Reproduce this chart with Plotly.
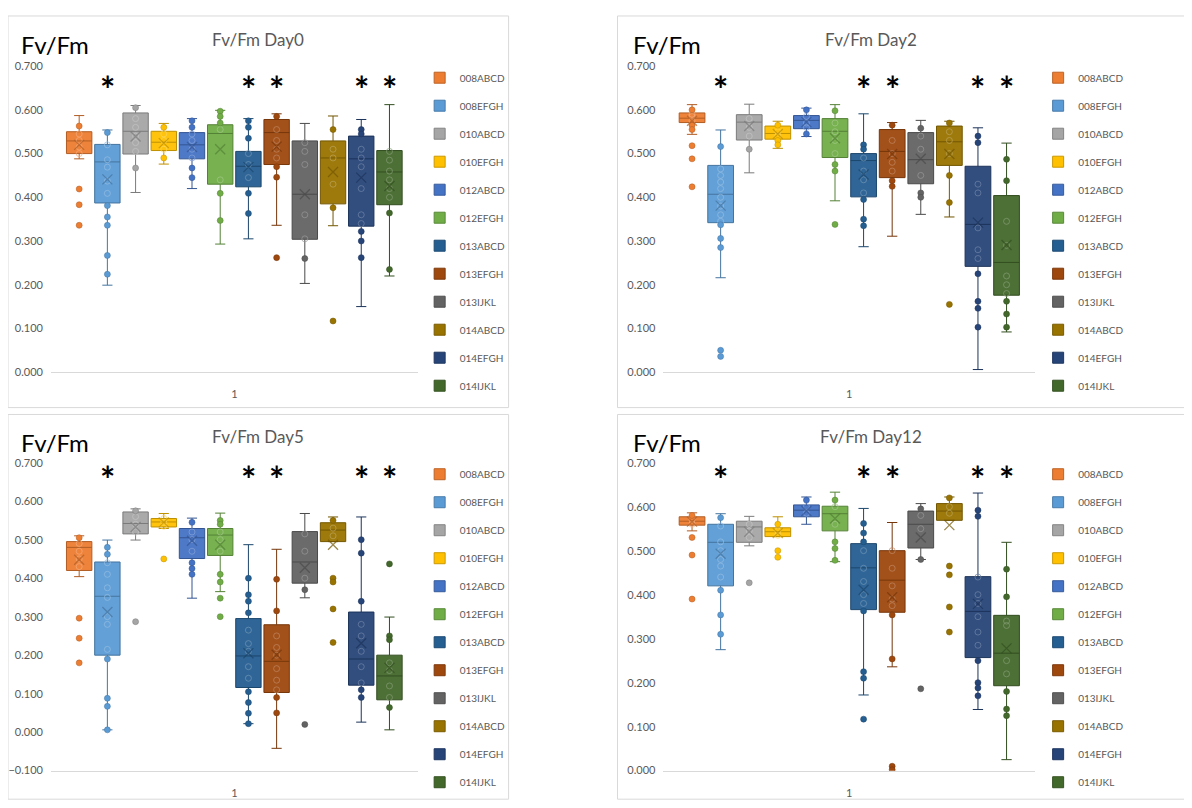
import plotly.graph_objects as go

W, H = 1192, 808
PAGE_OFFSET = 8  # default body margin of the written html page

GROUPS = ["008ABCD", "008EFGH", "010ABCD", "010EFGH", "012ABCD", "012EFGH",
          "013ABCD", "013EFGH", "013IJKL", "014ABCD", "014EFGH", "014IJKL"]
COLORS = ["#ED7D31", "#5B9BD5", "#A5A5A5", "#FFC000", "#4472C4", "#70AD47",
          "#255E91", "#9E480E", "#636363", "#997300", "#264478", "#43682B"]
STAR_GROUPS = ["008EFGH", "013ABCD", "013EFGH", "014EFGH", "014IJKL"]
X_TICK_LABEL = "1"
Y_LABEL = "Fv/Fm"
TITLES = ["Fv/Fm Day0", "Fv/Fm Day2", "Fv/Fm Day5", "Fv/Fm Day12"]

# ---------------- Day 0 ----------------
D0_Q1 = [0.500, 0.387, 0.499, 0.507, 0.488, 0.430, 0.424, 0.475, 0.304, 0.385, 0.334, 0.383]
D0_MED = [0.529, 0.481, 0.551, 0.526, 0.520, 0.546, 0.471, 0.548, 0.407, 0.490, 0.488, 0.458]
D0_Q3 = [0.550, 0.521, 0.593, 0.551, 0.548, 0.566, 0.505, 0.578, 0.529, 0.529, 0.540, 0.507]
D0_LO = [0.488, 0.199, 0.411, 0.476, 0.420, 0.293, 0.305, 0.336, 0.203, 0.335, 0.150, 0.220]
D0_HI = [0.587, 0.554, 0.610, 0.569, 0.580, 0.599, 0.580, 0.591, 0.569, 0.586, 0.578, 0.612]
D0_MEAN = [0.520, 0.441, 0.539, 0.524, 0.515, 0.510, 0.469, 0.516, 0.407, 0.458, 0.445, 0.426]
D0_PTS = [
    [0.563, 0.545, 0.53, 0.515, 0.50, 0.419, 0.383, 0.336],
    [0.548, 0.52, 0.486, 0.469, 0.437, 0.409, 0.381, 0.355, 0.336, 0.267, 0.224],
    [0.605, 0.58, 0.56, 0.54, 0.525, 0.505, 0.467],
    [0.56, 0.545, 0.53, 0.51, 0.49],
    [0.575, 0.56, 0.545, 0.53, 0.51, 0.49, 0.467, 0.445],
    [0.597, 0.585, 0.57, 0.555, 0.44, 0.409, 0.347],
    [0.575, 0.56, 0.535, 0.50, 0.475, 0.445, 0.409, 0.363],
    [0.585, 0.555, 0.53, 0.51, 0.49, 0.47, 0.446, 0.262],
    [0.525, 0.505, 0.475, 0.36, 0.305, 0.26],
    [0.555, 0.51, 0.49, 0.43, 0.376, 0.117],
    [0.555, 0.545, 0.51, 0.49, 0.47, 0.42, 0.36, 0.34, 0.322, 0.30, 0.262],
    [0.505, 0.485, 0.46, 0.44, 0.42, 0.40, 0.364, 0.235],
]

# ---------------- Day 2 ----------------
D2_Q1 = [0.571, 0.342, 0.531, 0.533, 0.557, 0.491, 0.401, 0.445, 0.431, 0.473, 0.242, 0.176]
D2_MED = [0.581, 0.407, 0.572, 0.546, 0.576, 0.551, 0.484, 0.505, 0.486, 0.527, 0.338, 0.251]
D2_Q3 = [0.593, 0.473, 0.589, 0.563, 0.587, 0.580, 0.500, 0.555, 0.548, 0.563, 0.471, 0.404]
D2_LO = [0.544, 0.216, 0.456, 0.512, 0.539, 0.392, 0.287, 0.311, 0.361, 0.355, 0.006, 0.092]
D2_HI = [0.612, 0.554, 0.613, 0.574, 0.604, 0.612, 0.591, 0.571, 0.576, 0.574, 0.559, 0.524]
D2_MEAN = [0.575, 0.381, 0.563, 0.545, 0.572, 0.535, 0.452, 0.499, 0.488, 0.499, 0.342, 0.291]
D2_PTS = [
    [0.60, 0.59, 0.585, 0.575, 0.565, 0.555, 0.518, 0.488, 0.424],
    [0.516, 0.465, 0.45, 0.435, 0.42, 0.40, 0.38, 0.36, 0.345, 0.337, 0.306, 0.285, 0.05, 0.036],
    [0.58, 0.56, 0.54, 0.51],
    [0.565, 0.55, 0.54, 0.53, 0.52],
    [0.60, 0.585, 0.57, 0.56, 0.545],
    [0.598, 0.57, 0.55, 0.53, 0.50, 0.475, 0.46, 0.338],
    [0.52, 0.51, 0.49, 0.46, 0.44, 0.41, 0.395, 0.35, 0.335],
    [0.565, 0.53, 0.50, 0.48, 0.46, 0.438, 0.425],
    [0.558, 0.54, 0.51, 0.45, 0.41, 0.40],
    [0.57, 0.55, 0.53, 0.50, 0.45, 0.388, 0.155],
    [0.54, 0.525, 0.43, 0.41, 0.33, 0.28, 0.26, 0.225, 0.162, 0.146, 0.103],
    [0.487, 0.438, 0.345, 0.29, 0.22, 0.20, 0.18, 0.162, 0.133, 0.103],
]

# ---------------- Day 5 ----------------
D5_Q1 = [0.420, 0.200, 0.515, 0.533, 0.451, 0.459, 0.116, 0.103, 0.387, 0.495, 0.122, 0.084]
D5_MED = [0.480, 0.353, 0.542, 0.546, 0.505, 0.512, 0.198, 0.184, 0.442, 0.525, 0.190, 0.146]
D5_Q3 = [0.495, 0.442, 0.572, 0.555, 0.529, 0.529, 0.295, 0.279, 0.521, 0.544, 0.312, 0.200]
D5_LO = [0.404, 0.006, 0.499, 0.529, 0.348, 0.365, 0.022, -0.042, 0.349, 0.495, 0.026, 0.006]
D5_HI = [0.510, 0.499, 0.580, 0.568, 0.556, 0.569, 0.487, 0.475, 0.568, 0.559, 0.559, 0.299]
D5_MEAN = [0.448, 0.312, 0.533, 0.545, 0.497, 0.487, 0.205, 0.201, 0.427, 0.487, 0.231, 0.167]
D5_PTS = [
    [0.505, 0.49, 0.47, 0.45, 0.43, 0.296, 0.244, 0.18],
    [0.48, 0.462, 0.44, 0.41, 0.375, 0.35, 0.30, 0.28, 0.215, 0.19, 0.088, 0.067, 0.006],
    [0.575, 0.56, 0.54, 0.52, 0.287],
    [0.555, 0.545, 0.535, 0.45],
    [0.545, 0.52, 0.50, 0.47, 0.44, 0.425, 0.41],
    [0.55, 0.54, 0.52, 0.50, 0.47, 0.41, 0.39, 0.348, 0.30],
    [0.40, 0.357, 0.34, 0.31, 0.265, 0.23, 0.21, 0.17, 0.14, 0.105, 0.077, 0.049, 0.022],
    [0.397, 0.315, 0.25, 0.22, 0.20, 0.165, 0.135, 0.11, 0.09, 0.05],
    [0.515, 0.47, 0.40, 0.37, 0.02],
    [0.55, 0.53, 0.51, 0.40, 0.39, 0.32, 0.233],
    [0.50, 0.465, 0.34, 0.28, 0.25, 0.21, 0.17, 0.128, 0.11, 0.09],
    [0.437, 0.25, 0.24, 0.18, 0.16, 0.12, 0.09, 0.064],
]

# ---------------- Day 12 ----------------
D12_Q1 = [0.558, 0.420, 0.519, 0.532, 0.577, 0.545, 0.366, 0.360, 0.506, 0.569, 0.257, 0.193]
D12_MED = [0.567, 0.519, 0.554, 0.543, 0.592, 0.584, 0.461, 0.433, 0.560, 0.590, 0.362, 0.267]
D12_Q3 = [0.577, 0.560, 0.567, 0.552, 0.604, 0.601, 0.516, 0.500, 0.590, 0.607, 0.441, 0.353]
D12_LO = [0.545, 0.275, 0.511, 0.532, 0.560, 0.475, 0.172, 0.236, 0.480, 0.569, 0.139, 0.025]
D12_HI = [0.586, 0.584, 0.578, 0.577, 0.622, 0.633, 0.596, 0.564, 0.607, 0.622, 0.631, 0.519]
D12_MEAN = [0.566, 0.493, 0.543, 0.540, 0.590, 0.573, 0.411, 0.394, 0.530, 0.558, 0.379, 0.278]
D12_PTS = [
    [0.58, 0.57, 0.56, 0.53, 0.49, 0.39],
    [0.575, 0.556, 0.52, 0.50, 0.48, 0.465, 0.44, 0.41, 0.354, 0.31],
    [0.56, 0.545, 0.53, 0.427],
    [0.56, 0.545, 0.535, 0.50, 0.485],
    [0.615, 0.60, 0.585],
    [0.615, 0.60, 0.56, 0.52, 0.505, 0.478],
    [0.562, 0.54, 0.52, 0.50, 0.46, 0.43, 0.40, 0.38, 0.363, 0.225, 0.21, 0.117],
    [0.50, 0.46, 0.42, 0.39, 0.375, 0.354, 0.254, 0.01, 0.002],
    [0.595, 0.58, 0.55, 0.48, 0.186],
    [0.62, 0.60, 0.585, 0.465, 0.445, 0.372, 0.315],
    [0.592, 0.578, 0.44, 0.40, 0.38, 0.35, 0.315, 0.285, 0.25, 0.20, 0.188, 0.17],
    [0.458, 0.395, 0.34, 0.33, 0.25, 0.22, 0.18, 0.14, 0.125],
]

DATA = [
    (D0_Q1, D0_MED, D0_Q3, D0_LO, D0_HI, D0_MEAN, D0_PTS),
    (D2_Q1, D2_MED, D2_Q3, D2_LO, D2_HI, D2_MEAN, D2_PTS),
    (D5_Q1, D5_MED, D5_Q3, D5_LO, D5_HI, D5_MEAN, D5_PTS),
    (D12_Q1, D12_MED, D12_Q3, D12_LO, D12_HI, D12_MEAN, D12_PTS),
]

# ---------------- layout geometry (page pixels) ----------------
FONT = "Lato, 'Open Sans', sans-serif"
GRAY = "#595959"
GEO = [
    dict(xl=50, xr=417, yt=60, yb=371, yr=[0, 0.7], frame=(7, 9, 508, 407), fv=(18, 38), title=(257, 33), leg=(419, 57), star=-23),
    dict(xl=663, xr=1035, yt=60, yb=371, yr=[0, 0.7], frame=(617, 9, 1210, 407), fv=(631, 38), title=(871, 33), leg=(1038, 57), star=-23),
    dict(xl=50, xr=417, yt=463, yb=776, yr=[-0.1, 0.7], frame=(7, 414, 508, 805), fv=(18, 442), title=(257, 436), leg=(419, 460), star=-16),
    dict(xl=663, xr=1035, yt=463, yb=776, yr=[0, 0.7], frame=(617, 414, 1210, 805), fv=(631, 442), title=(871, 436), leg=(1038, 460), star=-16),
]


def px(x):
    return (x - PAGE_OFFSET) / W


def py(y):
    return 1 - (y - PAGE_OFFSET) / H


def _rgb(hexc):
    h = hexc.lstrip("#")
    return int(h[0:2], 16), int(h[2:4], 16), int(h[4:6], 16)


def shade(hexc, f):
    r, g, b = _rgb(hexc)
    return "rgb(%d,%d,%d)" % (int(r * f), int(g * f), int(b * f))


def tint(hexc, f):
    r, g, b = _rgb(hexc)
    return "rgb(%d,%d,%d)" % (int(r + (255 - r) * f), int(g + (255 - g) * f), int(b + (255 - b) * f))


def rgba(hexc, a):
    r, g, b = _rgb(hexc)
    return "rgba(%d,%d,%d,%.2f)" % (r, g, b, a)


fig = go.Figure()
layout = dict(
    width=W, height=H, autosize=False,
    margin=dict(l=0, r=0, t=0, b=0),
    paper_bgcolor="white", plot_bgcolor="white",
    font=dict(family=FONT, color=GRAY),
    showlegend=True,
)
annotations = []
shapes = []

for p, (q1, med, q3, lo, hi, mean, pts) in enumerate(DATA):
    g = GEO[p]
    sfx = "" if p == 0 else str(p + 1)
    xa, ya = "x" + sfx, "y" + sfx
    legname = "legend" + sfx

    for i, grp in enumerate(GROUPS):
        c = COLORS[i]
        pos = i + 1
        dark = shade(c, 0.75)
        light = tint(c, 0.35)
        fig.add_trace(go.Box(
            x=[pos], q1=[q1[i]], median=[med[i]], q3=[q3[i]],
            lowerfence=[lo[i]], upperfence=[hi[i]],
            orientation="v", boxpoints=False, width=0.9, whiskerwidth=0.4,
            fillcolor=rgba(c, 0.95), line=dict(color=dark, width=1),
            xaxis=xa, yaxis=ya, showlegend=False, hoverinfo="skip", name=grp,
        ))
        inside = [v for v in pts[i] if q1[i] <= v <= q3[i]]
        outside = [v for v in pts[i] if not (q1[i] <= v <= q3[i])]
        fig.add_trace(go.Scatter(
            x=[pos] * len(inside), y=inside, mode="markers",
            marker=dict(symbol="circle-open", size=6, color=light, line=dict(width=1), opacity=0.7),
            xaxis=xa, yaxis=ya, showlegend=False, hoverinfo="skip",
        ))
        fig.add_trace(go.Scatter(
            x=[pos] * len(outside), y=outside, mode="markers",
            marker=dict(symbol="circle", size=6, color=c, line=dict(color=dark, width=0.5)),
            xaxis=xa, yaxis=ya, showlegend=False, hoverinfo="skip",
        ))
        fig.add_trace(go.Scatter(
            x=[pos], y=[mean[i]], mode="markers",
            marker=dict(symbol="x-thin-open", size=10, color=dark, line=dict(width=1.3), opacity=0.7),
            xaxis=xa, yaxis=ya, showlegend=False, hoverinfo="skip",
        ))
    # legend entries
    for i, grp in enumerate(GROUPS):
        fig.add_trace(go.Scatter(
            x=[None], y=[None], mode="markers", name=grp,
            marker=dict(symbol="square", size=11, color=COLORS[i], line=dict(color=shade(COLORS[i], 0.8), width=1)),
            xaxis=xa, yaxis=ya, legend=legname, legendgroup=f"{p}-{i}", showlegend=True,
        ))

    xkey = "xaxis" + sfx
    ykey = "yaxis" + sfx
    layout[xkey] = dict(
        domain=[px(g["xl"]), px(g["xr"])], range=[0, 13], anchor=ya,
        tickvals=[6.5], ticktext=[X_TICK_LABEL], showgrid=False, zeroline=False,
        showline=True, linecolor="#D9D9D9", linewidth=1, ticks="",
        tickfont=dict(size=11, color=GRAY, family=FONT), ticklabelstandoff=12,
    )
    layout[ykey] = dict(
        domain=[py(g["yb"]), py(g["yt"])], range=g["yr"], anchor=xa,
        dtick=0.1, tick0=0, tickformat=".3f", showgrid=False, zeroline=False,
        showline=False, ticks="",
        tickfont=dict(size=11, color=GRAY, family=FONT), ticklabelstandoff=7,
    )
    layout[legname] = dict(
        x=px(g["leg"][0]), y=py(g["leg"][1]), xanchor="left", yanchor="top",
        bgcolor="rgba(0,0,0,0)", font=dict(size=10, color=GRAY, family=FONT),
        tracegroupgap=9, itemclick=False, itemdoubleclick=False,
    )

    x0, y0, x1, y1 = g["frame"]
    shapes.append(dict(type="rect", xref="paper", yref="paper",
                       x0=px(x0), x1=px(x1), y0=py(y1), y1=py(y0),
                       line=dict(color="#D9D9D9", width=1), fillcolor="rgba(0,0,0,0)", layer="below"))
    annotations.append(dict(text=Y_LABEL, xref="paper", yref="paper", x=px(g["fv"][0]), y=py(g["fv"][1]),
                            xanchor="left", yanchor="middle", showarrow=False,
                            font=dict(size=24, color="black", family=FONT)))
    annotations.append(dict(text=TITLES[p], xref="paper", yref="paper", x=px(g["title"][0]), y=py(g["title"][1]),
                            xanchor="center", yanchor="middle", showarrow=False,
                            font=dict(size=17, color=GRAY, family=FONT)))
    for sg in STAR_GROUPS:
        annotations.append(dict(text="<b>*</b>", xref=xa, yref=ya, x=GROUPS.index(sg) + 1, y=g["yr"][1],
                                xanchor="center", yanchor="middle", yshift=g["star"], showarrow=False,
                                font=dict(size=36, color="black", family=FONT)))

layout["annotations"] = annotations
layout["shapes"] = shapes
fig.update_layout(**layout)
fig.write_html("out.html")
